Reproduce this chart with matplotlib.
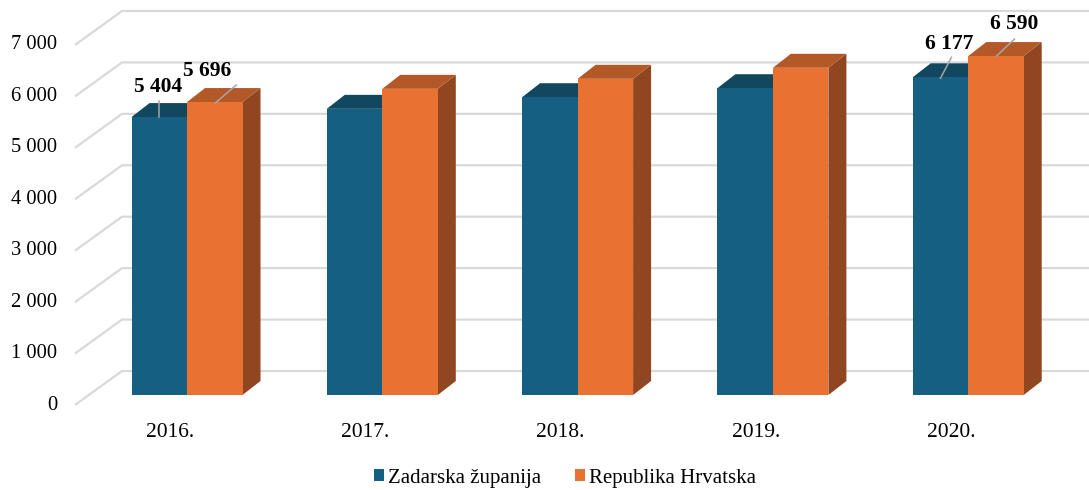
import matplotlib
matplotlib.use("Agg")
import matplotlib.pyplot as plt
from matplotlib.patches import Polygon, Patch

plt.rcParams['font.family'] = ['Liberation Serif', 'DejaVu Serif']

years = ["2016.", "2017.", "2018.", "2019.", "2020."]
zadar = [5404, 5564, 5790, 5965, 6177]
hrvatska = [5696, 5953, 6148, 6362, 6590]
series_names = ["Zadarska županija", "Republika Hrvatska"]
yticks = [0, 1000, 2000, 3000, 4000, 5000, 6000, 7000]
tick_labels = ["0", "1 000", "2 000", "3 000", "4 000", "5 000", "6 000", "7 000"]

blue, blue_top, blue_side = "#156082", "#11475F", "#0E3A4E"
orange, orange_top, orange_side = "#E97132", "#B35827", "#8F4621"
grid_c = "#D9D9D9"

W, H = 1089, 490
fig = plt.figure(figsize=(W / 100, H / 100), dpi=100)
ax = fig.add_axes([0, 0, 1, 1])
ax.set_axis_off()

# scales (pixels per data unit)
PXC = 195.3        # px per category
PXV = 0.05143      # px per value unit
x0px, y0px = 187, 395   # pixel of category 0 / value 0 (bar front plane)
ax.set_xlim((0 - x0px) / PXC, (W - x0px) / PXC)
ax.set_ylim((y0px - H) / PXV, (y0px - 0) / PXV)

def dx(px):
    return px / PXC

def dy(px):  # positive px = upward
    return px / PXV

# depth offsets (px)
front = (-14, -10)   # floor front edge relative to bar plane
back = (33, 24)      # back wall relative to bar plane
depth = (18, 14)     # bar depth

# gridlines
left_front_x = (75 - x0px) / PXC
right_x = (W - x0px) / PXC
for v in yticks:
    fx, fy = left_front_x, v + dy(front[1])
    bx = left_front_x + dx(back[0] - front[0])
    by = v + dy(back[1])
    ax.plot([fx, bx, right_x], [fy, by, by], color=grid_c, lw=1.6, zorder=1,
            solid_capstyle='butt')

# tick labels
for v, lab in zip(yticks, tick_labels):
    ax.text((57 - x0px) / PXC, v + dy(front[1]), lab, ha='right', va='center',
            fontsize=14.8, color='#000000')

bw = dx(55.5)
ddx, ddy = dx(depth[0]), dy(depth[1])

def bar3d(x, h, cf, ct, cs, z):
    ax.add_patch(Polygon([(x, 0), (x + bw, 0), (x + bw, h), (x, h)],
                         closed=True, fc=cf, ec='none', zorder=z + 0.2))
    ax.add_patch(Polygon([(x, h), (x + bw, h), (x + bw + ddx, h + ddy), (x + ddx, h + ddy)],
                         closed=True, fc=ct, ec='none', zorder=z + 0.1))
    ax.add_patch(Polygon([(x + bw, 0), (x + bw + ddx, ddy), (x + bw + ddx, h + ddy), (x + bw, h)],
                         closed=True, fc=cs, ec='none', zorder=z))

for i in range(len(years)):
    bar3d(i - bw, zadar[i], blue, blue_top, blue_side, 2 + i)
    bar3d(i, hrvatska[i], orange, orange_top, orange_side, 2.5 + i)
    ax.text(i + dx(front[0] - 3), dy(-37), years[i], ha='center', va='center', fontsize=15.5)

# data labels (first and last year)
def label(x, v, text, lab_off, lead_start, lead_end):
    ax.text(x + dx(lab_off[0]), v + dy(lab_off[1]), text, ha='center', va='center',
            fontsize=15.5, fontweight='bold', zorder=20)
    ax.plot([x + dx(lead_start[0]), x + dx(lead_end[0])],
            [v + dy(lead_start[1]), v + dy(lead_end[1])], color='#A6A6A6', lw=1.1, zorder=19)

label(0 - bw / 2, zadar[0], "5 404", (-1, 30), (0, 16), (0, 0))
label(0 + bw / 2, hrvatska[0], "5 696", (-7.5, 31), (21.5, 17), (0.5, -1))
label(4 - bw / 2, zadar[4], "6 177", (9, 33), (11, 20), (0, -1))
label(4 + bw / 2, hrvatska[4], "6 590", (18.5, 32), (18.5, 17), (0.5, 0))

handles = [Patch(facecolor=blue, edgecolor='none'), Patch(facecolor=orange, edgecolor='none')]
fig.legend(handles, series_names, loc='center', bbox_to_anchor=(565 / W, 1 - 478 / H),
           ncol=2, frameon=False, fontsize=15, handlelength=0.5, handleheight=0.5,
           handletextpad=0.2, columnspacing=1.6)

fig.savefig("out.png", dpi=100)
